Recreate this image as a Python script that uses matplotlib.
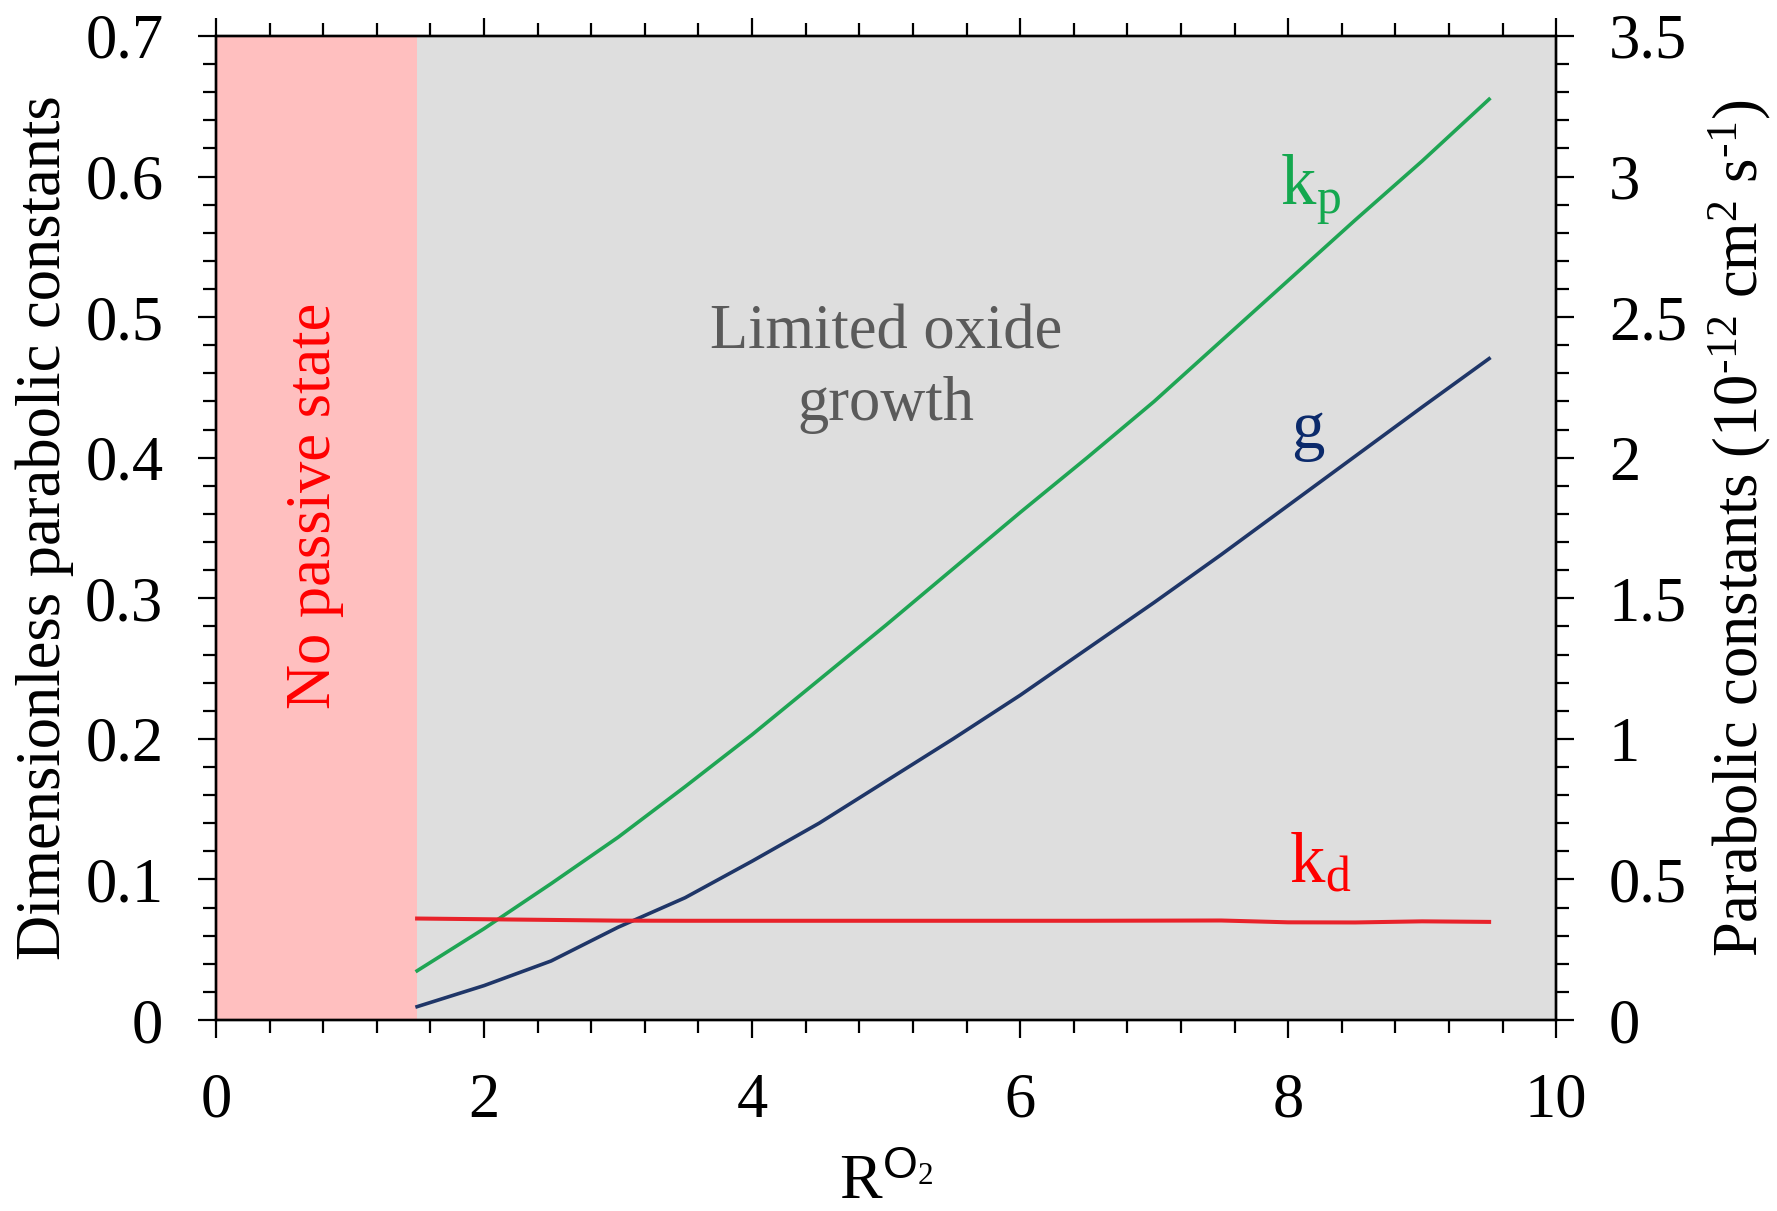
import numpy as np
import matplotlib
matplotlib.use("Agg")
import matplotlib.pyplot as plt

plt.rcParams['font.family'] = ['Liberation Serif', 'DejaVu Serif']
plt.rcParams['mathtext.fontset'] = 'custom'
plt.rcParams['mathtext.rm'] = 'Liberation Serif'
plt.rcParams['mathtext.it'] = 'Liberation Serif:italic'
plt.rcParams['mathtext.sf'] = 'Liberation Sans'

# data
r_o2 = [1.5, 2.0, 2.5, 3.0, 3.5, 4.0, 4.5, 5.0, 5.5, 6.0, 6.5, 7.0, 7.5, 8.0, 8.5, 9.0, 9.5]
kp = [0.035, 0.065, 0.097, 0.130, 0.166, 0.203, 0.242, 0.281, 0.321, 0.361,
      0.400, 0.440, 0.483, 0.526, 0.569, 0.611, 0.655]
g = [0.0095, 0.0245, 0.042, 0.066, 0.087, 0.113, 0.140, 0.170, 0.200, 0.231,
     0.264, 0.297, 0.331, 0.366, 0.401, 0.436, 0.4705]
kd = [0.0722, 0.0717, 0.0712, 0.0707, 0.0706, 0.0706, 0.0706, 0.0706, 0.0706, 0.0706,
      0.0706, 0.0707, 0.0708, 0.0695, 0.0694, 0.0702, 0.0698]

passive_limit = 1.5
x_ticks = [0, 2, 4, 6, 8, 10]
left_ticks = [0, 0.1, 0.2, 0.3, 0.4, 0.5, 0.6, 0.7]
left_labels = ["0", "0.1", "0.2", "0.3", "0.4", "0.5", "0.6", "0.7"]
right_ticks = [0, 0.5, 1, 1.5, 2, 2.5, 3, 3.5]
right_labels = ["0", "0.5", "1", "1.5", "2", "2.5", "3", "3.5"]

green = "#1fa554"
navy = "#1f3668"
red = "#e8222a"

fig = plt.figure(figsize=(17.77, 12.11), dpi=100)
ax = fig.add_axes([0.1216, 0.1577, 0.7541, 0.8126])
ax.set_facecolor("#dedede")
ax.axvspan(0, passive_limit, color="#ffbfbf", lw=0, zorder=0)

ax.plot(r_o2, kp, color=green, lw=2.6, zorder=3)
ax.plot(r_o2, g, color=navy, lw=2.6, zorder=3)
ax.plot(r_o2, kd, color=red, lw=2.9, zorder=3)

ax.set_xlim(0, 10)
ax.set_ylim(0, 0.7)
ax.set_xticks(x_ticks)
ax.set_xticks(np.arange(0, 10.01, 0.4), minor=True)
ax.set_yticks(left_ticks)
ax.set_yticklabels(left_labels)
ax.set_yticks(np.arange(0, 0.701, 0.02), minor=True)

ax2 = ax.twinx()
ax2.set_ylim(0, 3.5)
ax2.set_yticks(right_ticks)
ax2.set_yticklabels(right_labels)
ax2.set_yticks(np.arange(0, 3.501, 0.1), minor=True)

for a in (ax, ax2):
    for s in a.spines.values():
        s.set_linewidth(1.7)
ax.tick_params(which="both", direction="out", width=1.6, top=True, labelsize=45, pad=25)
ax.tick_params(which="major", length=13)
ax.tick_params(which="minor", length=9.5)
ax2.tick_params(which="both", direction="out", width=1.6, labelsize=45, pad=25)
ax2.tick_params(which="major", length=13)
ax2.tick_params(which="minor", length=9.5)

ax.set_ylabel("Dimensionless parabolic constants", fontsize=45)
ax.yaxis.set_label_coords(-0.106, 0.5)
ax2.set_ylabel(r"Parabolic constants (10$^{\text{-12}}$ cm$^{2}$ s$^{\text{-1}}$)", fontsize=45,
               rotation=90)
ax2.yaxis.set_label_coords(1.112, 0.5)
ax.set_xlabel(r"R$^{\mathsf{O}_{2}}$", fontsize=46)
ax.xaxis.set_label_coords(0.5, -0.137)

ax.text(0.74, 0.366, "No passive state", color="red", fontsize=45,
        rotation=90, ha="center", va="center")
ax.text(5.0, 0.463, "Limited oxide\ngrowth", color="#5a5a5a", fontsize=45,
        ha="center", va="center", linespacing=1.3)
ax.text(7.94, 0.580, r"k$_{\mathrm{p}}$", color="#14a84f", fontsize=51, ha="left", va="baseline")
ax.text(8.15, 0.407, "g", color="#0b2a6b", fontsize=48, ha="center", va="baseline")
ax.text(8.01, 0.0976, r"k$_{\mathrm{d}}$", color="red", fontsize=51, ha="left", va="baseline")

fig.savefig("out.png", dpi=100)
